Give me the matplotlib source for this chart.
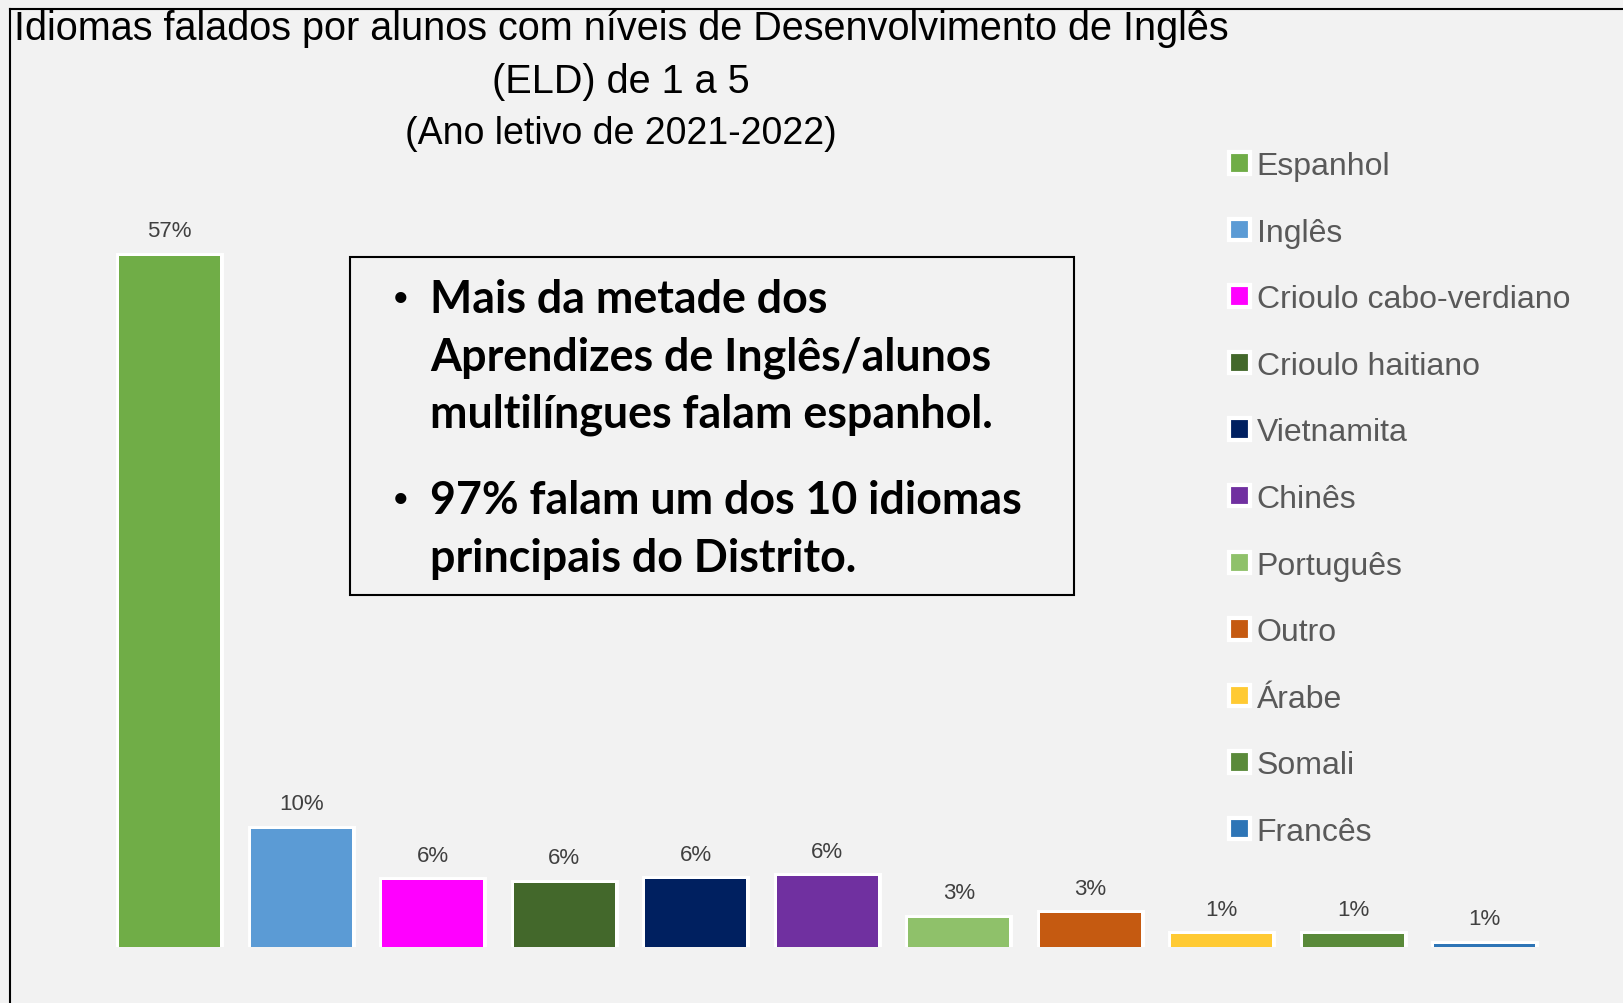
import matplotlib
matplotlib.use('Agg')
import matplotlib.pyplot as plt
from matplotlib.patches import Patch, Rectangle
from matplotlib.lines import Line2D

# data
idiomas = ['Espanhol', 'Inglês', 'Crioulo cabo-verdiano', 'Crioulo haitiano',
           'Vietnamita', 'Chinês', 'Português', 'Outro', 'Árabe', 'Somali', 'Francês']
valores = [57.0, 9.75, 5.5, 5.3, 5.6, 5.85, 2.4, 2.8, 1.07, 1.05, 0.25]
rotulos = ['57%', '10%', '6%', '6%', '6%', '6%', '3%', '3%', '1%', '1%', '1%']
cores = ['#70ad47', '#5b9bd5', '#ff00ff', '#43682b', '#002060', '#7030a0',
         '#8fc16a', '#c55a11', '#ffca33', '#5a8a3a', '#2e75b6']

bg = '#f2f2f2'
fig = plt.figure(figsize=(16.24, 10.04), dpi=100, facecolor=bg)
ax = fig.add_axes([0.064, 0.0558, 0.8908, 0.785])
ax.set_facecolor(bg)

x = list(range(len(idiomas)))
# white outline drawn outside the bars: a wider white bar underneath
ax.bar(x, valores, width=0.77, color='white', edgecolor='white', linewidth=5, zorder=1)
ax.bar(x, valores, width=0.77, color=cores, linewidth=0, zorder=2)
for xi, v, r in zip(x, valores, rotulos):
    ax.annotate(r, (xi, v), xytext=(0, 18), textcoords='offset points',
                ha='center', va='center', fontsize=16, color='#404040',
                family='Liberation Sans')

ax.set_xlim(-0.5, len(idiomas) - 0.5)
ax.set_ylim(0, 65)
ax.axis('off')

# legend
handles = [Patch(facecolor=c, edgecolor='white', linewidth=3) for c in cores]
leg = fig.legend(handles, idiomas, loc='upper left', bbox_to_anchor=(0.741, 0.874),
                 frameon=False, handlelength=0.65, handleheight=0.65,
                 handletextpad=0.22, labelspacing=1.145, borderpad=0.3,
                 prop={'family': 'Liberation Sans', 'size': 23})
for t in leg.get_texts():
    t.set_color('#595959')

# title
fig.text(0.3825, 1 - 40 / 1004, 'Idiomas falados por alunos com níveis de Desenvolvimento de Inglês',
         ha='center', va='baseline', fontsize=28.5, family='Liberation Sans', color='black')
fig.text(0.3825, 1 - 82 / 1004, '(ELD) de 1 a 5', ha='center', va='center', fontsize=28.5,
         family='Liberation Sans', color='black')
fig.text(0.3825, 1 - 133.5 / 1004, '(Ano letivo de 2021-2022)', ha='center', va='center',
         fontsize=27, family='Liberation Sans', color='black')

# text box
fig.patches.append(Rectangle((350 / 1624, 1 - 596 / 1004), 724 / 1624, 338 / 1004,
                             transform=fig.transFigure, facecolor='none',
                             edgecolor='black', linewidth=1.5))
linhas = [(True, 'Mais da metade dos', 300),
          (False, 'Aprendizes de Inglês/alunos', 358),
          (False, 'multilíngues falam espanhol.', 415),
          (True, '97% falam um dos 10 idiomas', 501),
          (False, 'principais do Distrito.', 559)]
for bullet, txt, yp in linhas:
    if bullet:
        fig.text(401 / 1624, 1 - yp / 1004, '•', ha='center', va='center',
                 fontsize=28, family='Liberation Sans', fontweight='bold')
    fig.text(430 / 1624, 1 - yp / 1004, txt, ha='left', va='center',
             fontsize=32.2, family='Lato', fontweight='bold')

# border lines (left and top)
fig.add_artist(Line2D([10 / 1624, 10 / 1624], [0, 1 - 10 / 1004], transform=fig.transFigure,
                      color='black', linewidth=1.5, zorder=5))
fig.add_artist(Line2D([10 / 1624, 1], [1 - 10 / 1004, 1 - 10 / 1004], transform=fig.transFigure,
                      color='black', linewidth=1.5, zorder=5))
# area above/left of the border is plain background (clips the title)
fig.patches.append(Rectangle((0, 1 - 10 / 1004), 1, 10 / 1004, transform=fig.transFigure,
                             facecolor=bg, edgecolor='none', zorder=4))
fig.patches.append(Rectangle((0, 0), 10 / 1624, 1, transform=fig.transFigure,
                             facecolor=bg, edgecolor='none', zorder=4))

fig.savefig('out.png', dpi=100, facecolor=bg)
